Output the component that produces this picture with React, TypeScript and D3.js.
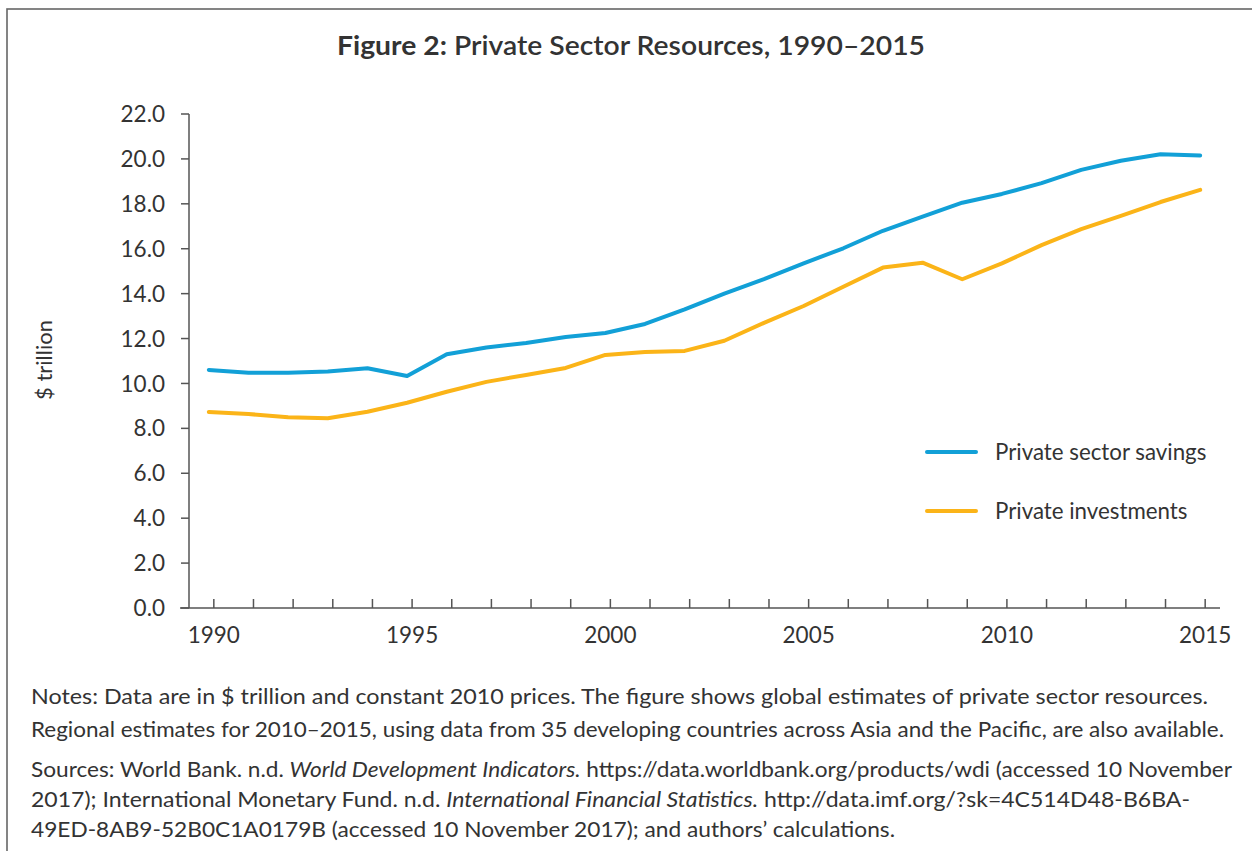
import * as d3 from "d3";

// ── Data ────────────────────────────────────────────────
const YEARS = d3.range(1990, 2016);
const SAVINGS = [
  10.6, 10.48, 10.48, 10.53, 10.68, 10.33, 11.3, 11.6, 11.8, 12.07, 12.25, 12.65, 13.3,
  14.0, 14.65, 15.35, 16.02, 16.8, 17.43, 18.05, 18.44, 18.92, 19.51, 19.92, 20.21, 20.15,
];
const INVESTMENTS = [
  8.73, 8.64, 8.49, 8.45, 8.74, 9.14, 9.63, 10.07, 10.38, 10.69, 11.27, 11.4, 11.45,
  11.9, 12.7, 13.45, 14.31, 15.16, 15.38, 14.64, 15.35, 16.16, 16.87, 17.46, 18.08, 18.62,
];
const Y_TICKS = d3.range(0, 23, 2);
const X_LABELS = [1990, 1995, 2000, 2005, 2010, 2015];
const SERIES = [
  { name: "Private sector savings", values: SAVINGS, color: "#12a0d7" },
  { name: "Private investments", values: INVESTMENTS, color: "#fbb418" },
];

// ── Layout ──────────────────────────────────────────────
const W = 1252;
const H = 851;
const FONT = "Lato, 'Open Sans', sans-serif";
const TEXT = "#333";
const AXIS = "#555";
const plot = { left: 189, right: 1220, top: 114, bottom: 608 };
const TICK_SHIFT = 5;

const x = d3.scalePoint<number>().domain(YEARS).range([plot.left, plot.right]).padding(0.5);
const y = d3.scaleLinear().domain([0, 22]).range([plot.bottom, plot.top]);

const line = d3
  .line<number>()
  .x((_, i) => x(YEARS[i]) as number)
  .y(d => y(d));

export default function App() {
  return (
    <svg
      width={W}
      height={H}
      viewBox={`0 0 ${W} ${H}`}
      style={{ position: "absolute", left: 0, top: 0, display: "block", background: "#fff" }}
      fontFamily={FONT}
    >
      {/* frame */}
      <rect x={7} y={9} width={W + 20} height={H + 20} fill="none" stroke="#666" strokeWidth={1.6} />

      {/* title */}
      <text x={631} y={55} textAnchor="middle" fontSize={27} fill={TEXT} textLength={588} lengthAdjust="spacingAndGlyphs">
        <tspan fontWeight={700}>Figure 2:</tspan>
        <tspan fontWeight={600}> Private Sector Resources, 1990–2015</tspan>
      </text>

      {/* y axis */}
      <line x1={plot.left} x2={plot.left} y1={plot.top} y2={plot.bottom} stroke={AXIS} strokeWidth={1.5} />
      {Y_TICKS.map(t => (
        <g key={t}>
          <line x1={plot.left - 8} x2={plot.left} y1={y(t)} y2={y(t)} stroke={AXIS} strokeWidth={1.5} />
          <text x={165} y={y(t)} dy="0.36em" textAnchor="end" fontSize={22.5} fill={TEXT}>
            {t.toFixed(1)}
          </text>
        </g>
      ))}
      <text
        transform={`translate(52, ${360}) rotate(-90)`}
        textAnchor="middle"
        fontSize={22}
        fill={TEXT}
      >
        $ trillion
      </text>

      {/* x axis */}
      <line x1={plot.left - 9} x2={plot.right} y1={plot.bottom} y2={plot.bottom} stroke={AXIS} strokeWidth={1.5} />
      {YEARS.map(yr => (
        <line
          key={yr}
          x1={(x(yr) as number) + TICK_SHIFT}
          x2={(x(yr) as number) + TICK_SHIFT}
          y1={plot.bottom - 9}
          y2={plot.bottom}
          stroke={AXIS}
          strokeWidth={1.5}
        />
      ))}
      {X_LABELS.map(yr => (
        <text
          key={yr}
          x={(x(yr) as number) + TICK_SHIFT}
          y={643}
          textAnchor="middle"
          fontSize={22.5}
          fill={TEXT}
        >
          {yr}
        </text>
      ))}

      {/* series */}
      {SERIES.map(s => (
        <path
          key={s.name}
          d={line(s.values) ?? ""}
          fill="none"
          stroke={s.color}
          strokeWidth={4}
          strokeLinejoin="round"
          strokeLinecap="round"
        />
      ))}

      {/* legend */}
      {SERIES.map((s, i) => (
        <g key={s.name} transform={`translate(927, ${452 + i * 59})`}>
          <line x1={0} x2={49} y1={0} y2={0} stroke={s.color} strokeWidth={4} strokeLinecap="round" />
          <text x={68} y={0} dy="0.36em" fontSize={22.3} fill={TEXT}>
            {s.name}
          </text>
        </g>
      ))}

      {/* notes */}
      <g fontSize={21} fill={TEXT}>
        <text x={31} y={704} textLength={1177} lengthAdjust="spacingAndGlyphs">
          Notes: Data are in $ trillion and constant 2010 prices. The figure shows global estimates of private sector resources.
        </text>
        <text x={31} y={737} textLength={1193} lengthAdjust="spacingAndGlyphs">
          Regional estimates for 2010–2015, using data from 35 developing countries across Asia and the Pacific, are also available.
        </text>
        <text x={31} y={777} textLength={1201} lengthAdjust="spacingAndGlyphs">
          Sources: World Bank. n.d. <tspan fontStyle="italic">World Development Indicators.</tspan> https://data.worldbank.org/products/wdi (accessed 10 November
        </text>
        <text x={31} y={807} textLength={1159} lengthAdjust="spacingAndGlyphs">
          2017); International Monetary Fund. n.d. <tspan fontStyle="italic">International Financial Statistics.</tspan> http://data.imf.org/?sk=4C514D48-B6BA-
        </text>
        <text x={31} y={837} textLength={864} lengthAdjust="spacingAndGlyphs">
          49ED-8AB9-52B0C1A0179B (accessed 10 November 2017); and authors’ calculations.
        </text>
      </g>
    </svg>
  );
}
